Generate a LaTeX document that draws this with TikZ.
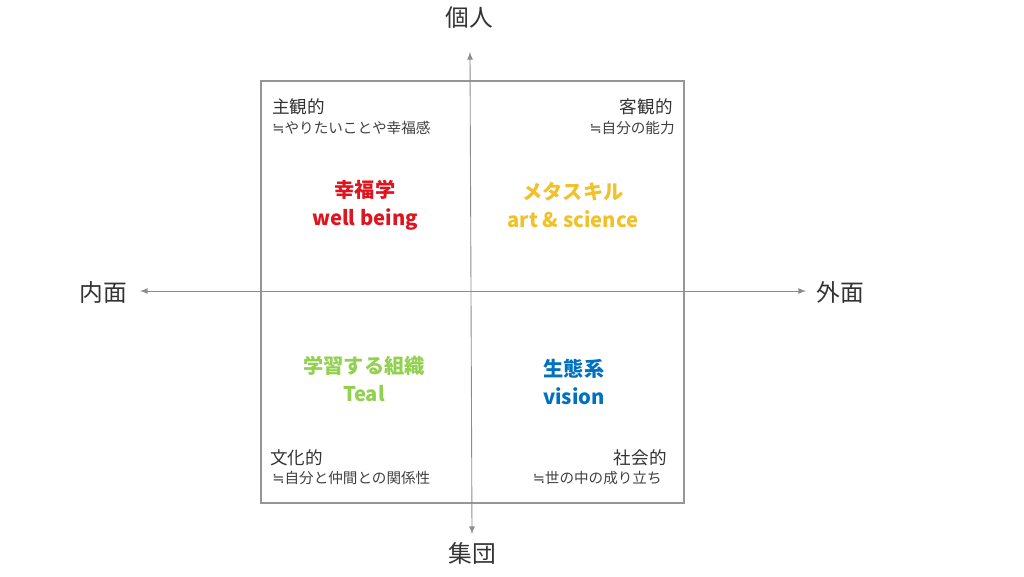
\documentclass[tikz,border=0pt]{standalone}
\usepackage{fontspec}
\setmainfont{Noto Sans CJK JP}
\newfontfamily\symfont{DejaVu Sans}
\newcommand{\nearlyeq}{{\symfont ≒}}
\usetikzlibrary{positioning}
\definecolor{axisgray}{RGB}{140,140,140}
\definecolor{boxgray}{RGB}{150,150,150}
\definecolor{kofukured}{RGB}{224,20,30}
\definecolor{metagold}{RGB}{242,192,40}
\definecolor{tealgreen}{RGB}{146,208,80}
\definecolor{visionblue}{RGB}{0,112,192}
\tikzset{
  axis/.style={draw=axisgray, line width=0.5pt, <->, >=latex},
  axislabel/.style={font=\fontsize{13.5}{15}\selectfont, text=black!80, inner sep=0pt},
  kind/.style={font=\fontsize{10}{12}\selectfont, text=black!80, inner sep=0pt},
  note/.style={font=\fontsize{8.3}{10}\selectfont, text=black!75, inner sep=0pt},
  field/.style={font=\fontsize{11.5}{16}\bfseries\selectfont, align=center, inner sep=0pt}
}
\begin{document}
\begin{tikzpicture}[x=0.02cm, y=-0.02cm]
            \useasboundingbox (0,0) rectangle (1024,576);
            % Rahmen
            \draw[boxgray, line width=0.6pt] (261,81) rectangle (684,503);
            % Achsen
            \node[axislabel] (kojin) at (469,18) {個人};
            \node[axislabel] (shudan) at (472,553) {集団};
            \node[axislabel] (naimen) at (103,292) {内面};
            \node[axislabel] (gaimen) at (840,292) {外面};
            \coordinate (top) at (470,52);
            \coordinate (bottom) at (472,534);
            \coordinate (left) at (140,291);
            \coordinate (right) at (806,291);
            \draw[axis] (top) -- (bottom);
            \draw[axis] (left) -- (right);
            % Quadranten
            \node[kind, anchor=west] (shukan) at (272,107) {主観的};
            \node[note, anchor=west] (shukannote) at (272,128) {\nearlyeq やりたいことや幸福感};
            \node[kind, anchor=east] (kyakkan) at (673,107) {客観的};
            \node[note, anchor=east] (kyakkannote) at (675,128) {\nearlyeq 自分の能力};
            \node[kind, anchor=west] (bunka) at (270,458) {文化的};
            \node[note, anchor=west] (bunkanote) at (272,478) {\nearlyeq 自分と仲間との関係性};
            \node[kind, anchor=east] (shakai) at (667,458) {社会的};
            \node[note, anchor=east] (shakainote) at (662,478) {\nearlyeq 世の中の成り立ち};
            % Felder
            \node[field, text=kofukured] (kofuku) at (365,205) {幸福学\\well being};
            \node[field, text=metagold] (meta) at (573,205) {メタスキル\\art \& science};
            \node[field, text=tealgreen] (teal) at (364,379) {学習する組織\\Teal};
            \node[field, text=visionblue] (vision) at (574,382) {生態系\\vision};
          \end{tikzpicture}
\end{document}
